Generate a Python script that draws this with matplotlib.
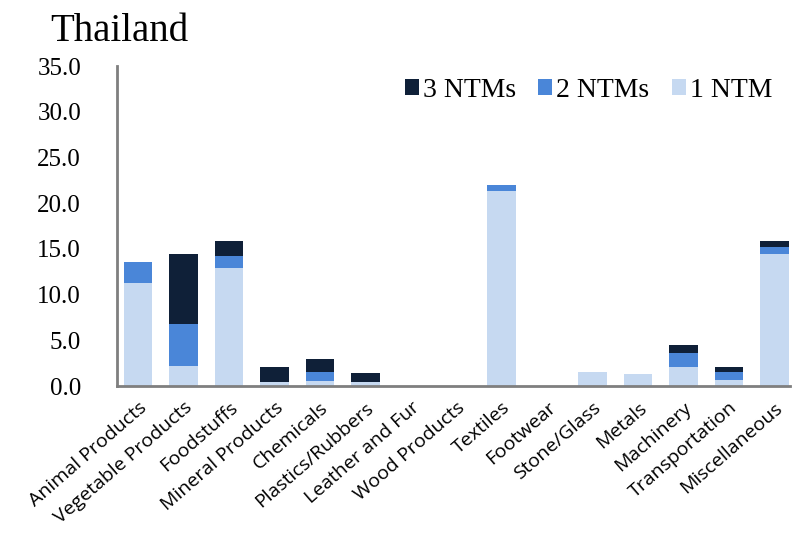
import matplotlib.pyplot as plt
import numpy as np

# Product categories and NTM counts (share, %)
categories = ['Animal Products', 'Vegetable Products', 'Foodstuffs', 'Mineral Products',
              'Chemicals', 'Plastics/Rubbers', 'Leather and Fur', 'Wood Products',
              'Textiles', 'Footwear', 'Stone/Glass', 'Metals', 'Machinery',
              'Transportation', 'Miscellaneous']
one_ntm = [11.3, 2.2, 12.9, 0.4, 0.6, 0.5, 0.0, 0.0, 21.3, 0.0, 1.5, 1.3, 2.1, 0.7, 14.4]
two_ntm = [2.3, 4.6, 1.3, 0.1, 0.9, 0.0, 0.0, 0.0, 0.7, 0.0, 0.0, 0.0, 1.5, 0.8, 0.8]
three_ntm = [0.0, 7.6, 1.7, 1.6, 1.5, 0.9, 0.0, 0.0, 0.0, 0.0, 0.0, 0.0, 0.9, 0.6, 0.7]

c_light = '#c6d9f1'
c_mid = '#4a86d8'
c_dark = '#0f2038'

fig = plt.figure(figsize=(7.92, 5.37), dpi=100)
ax = fig.add_axes([0.148, 0.281, 0.85, 0.596])

x = np.arange(len(categories))
w = 0.63
one = np.array(one_ntm)
two = np.array(two_ntm)
three = np.array(three_ntm)
ax.bar(x, three, w, bottom=one + two, color=c_dark, label='3 NTMs')
ax.bar(x, two, w, bottom=one, color=c_mid, label='2 NTMs')
ax.bar(x, one, w, color=c_light, label='1 NTM')

ax.set_ylim(0, 35)
ax.set_xlim(-0.46, 14.35)
ax.set_yticks(np.arange(0, 36, 5))
ax.set_yticklabels([f'{v:.1f}' for v in np.arange(0, 36, 5)],
                   fontfamily='Liberation Serif', fontsize=18)
ax.tick_params(axis='y', length=0, pad=26)
ax.set_xticks(x)
ax.set_xticklabels(categories, rotation=41, ha='right', rotation_mode='anchor',
                   fontfamily='Open Sans', fontsize=14)
ax.tick_params(axis='x', length=0, pad=9)

for s in ['top', 'right']:
    ax.spines[s].set_visible(False)
for s in ['left', 'bottom']:
    ax.spines[s].set_color('#7f7f7f')
    ax.spines[s].set_linewidth(2)

ax.legend(loc='upper right', ncol=3, frameon=False, handlelength=0.5, handleheight=0.5,
          handletextpad=0.15, columnspacing=0.8, bbox_to_anchor=(1.01, 1.04),
          prop={'family': 'Liberation Serif', 'size': 20})

fig.text(0.063, 0.942, 'Thailand', fontfamily='Liberation Serif', fontsize=28,
         va='center', ha='left')

fig.savefig('out.png', dpi=100)
